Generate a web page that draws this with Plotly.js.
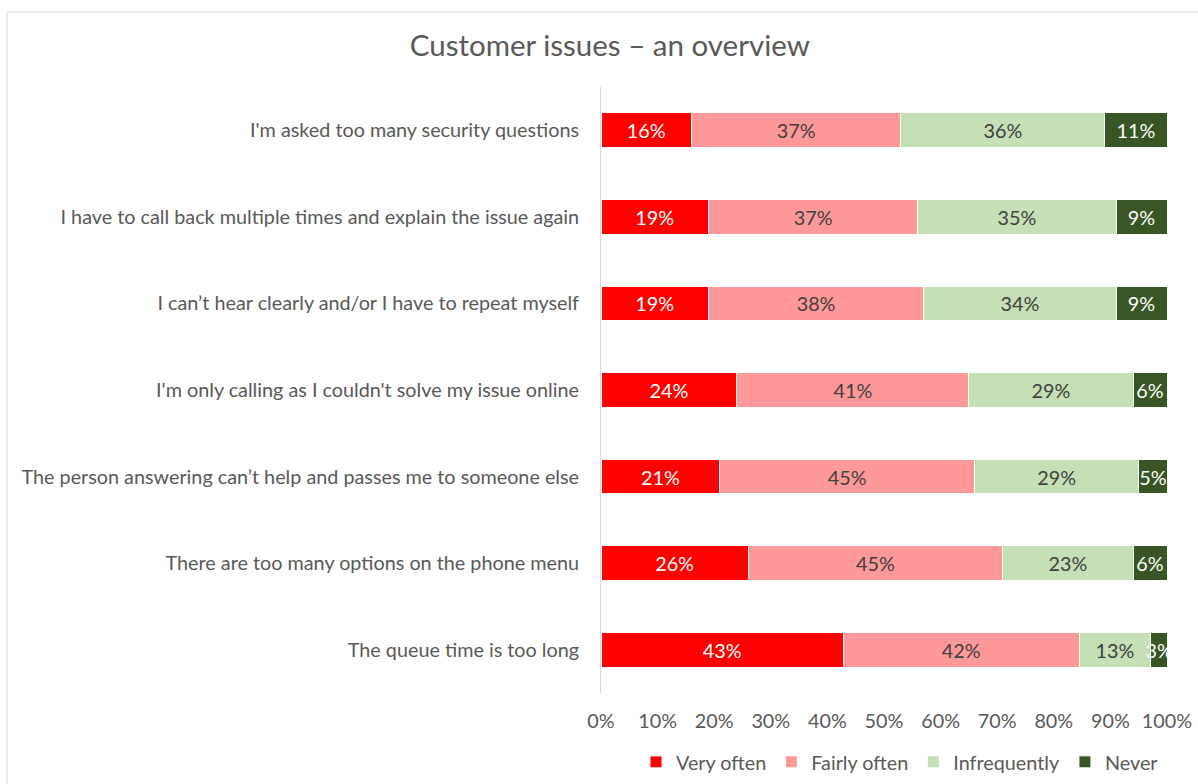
<!DOCTYPE html>
<html>
<head>
<meta charset="utf-8">
<script src="https://cdn.plot.ly/plotly-3.0.1.min.js"></script>
<style>
  html, body { margin: 0; padding: 0; background: #fff; }
  #chart { width: 1198px; height: 784px; }
</style>
</head>
<body>
<div id="chart"></div>
<script>
const categories = [
  "I'm asked too many security questions",
  "I have to call back multiple times and explain the issue again",
  "I can\u2019t hear clearly and/or I have to repeat myself",
  "I'm only calling as I couldn't solve my issue online",
  "The person answering can\u2019t help and passes me to someone else",
  "There are too many options on the phone menu",
  "The queue time is too long"
];
const seriesNames = ["Very often", "Fairly often", "Infrequently", "Never"];
const veryOften   = [16, 19, 19, 24, 21, 26, 42.8];
const fairlyOften = [37, 37, 38, 41, 45, 45, 41.7];
const infrequently = [36, 35, 34, 29, 29, 23, 12.6];
const never       = [11, 9, 9, 6, 5, 6, 3.0];
const xTickVals = [0, 10, 20, 30, 40, 50, 60, 70, 80, 90, 100];
const xTickText = ["0%", "10%", "20%", "30%", "40%", "50%", "60%", "70%", "80%", "90%", "100%"];

const colors = ["#FF0000", "#FF9999", "#C5E0B4", "#375623"];
const textColors = ["#FFFFFF", "#404040", "#404040", "#FFFFFF"];
const FONT = "Lato, 'Open Sans', sans-serif";
const FS = 19.8;

const seriesValues = [veryOften, fairlyOften, infrequently, never];
const traces = seriesValues.map((vals, i) => ({
  type: "bar",
  orientation: "h",
  name: seriesNames[i],
  y: categories,
  x: vals,
  marker: { color: colors[i], line: { color: "#FFFFFF", width: 1 } },
  texttemplate: "%{x:.0f}%",
  textposition: "inside",
  insidetextanchor: "middle",
  constraintext: "none",
  textangle: 0,
  insidetextfont: { family: FONT, size: FS, color: textColors[i] },
  hoverinfo: "skip"
}));

const layout = {
  width: 1198,
  height: 784,
  barmode: "stack",
  bargap: 0.6,
  paper_bgcolor: "#FFFFFF",
  plot_bgcolor: "#FFFFFF",
  font: { family: FONT, color: "#595959", size: FS },
  margin: { l: 601, r: 31, t: 87, b: 91, autoexpand: false },
  title: {
    text: "Customer issues \u2013 an overview",
    font: { family: FONT, size: 29.5, color: "#595959" },
    x: 0.509, xanchor: "center",
    y: 1 - 46 / 784, yanchor: "middle", yref: "container"
  },
  xaxis: {
    range: [0, 100],
    tickvals: xTickVals,
    ticktext: xTickText,
    showgrid: false,
    zeroline: false,
    showline: false,
    ticks: "outside",
    ticklen: 10,
    tickcolor: "rgba(0,0,0,0)",
    tickfont: { family: FONT, size: FS, color: "#595959" },
    fixedrange: true
  },
  yaxis: {
    autorange: "reversed",
    showgrid: false,
    zeroline: false,
    showline: true,
    linecolor: "#D9D9D9",
    linewidth: 1,
    ticks: "outside",
    ticklen: 17,
    tickcolor: "rgba(0,0,0,0)",
    tickfont: { family: FONT, size: FS, color: "#595959" },
    fixedrange: true
  },
  legend: {
    orientation: "h",
    xref: "container", yref: "container",
    x: 900 / 1198, xanchor: "center",
    y: 1 - 762 / 784, yanchor: "middle",
    font: { family: FONT, size: FS, color: "#595959" },
    traceorder: "normal",
    itemwidth: 30
  },
  shapes: [{
    type: "rect", xref: "paper", yref: "paper",
    x0: (7 - 601) / 566, x1: (1215 - 601) / 566,
    y0: (693 - 800) / 606, y1: (693 - 12) / 606,
    line: { color: "#D9D9D9", width: 1 },
    fillcolor: "rgba(0,0,0,0)",
    layer: "below"
  }]
};

Plotly.newPlot("chart", traces, layout, { displayModeBar: false, staticPlot: true });
</script>
</body>
</html>
